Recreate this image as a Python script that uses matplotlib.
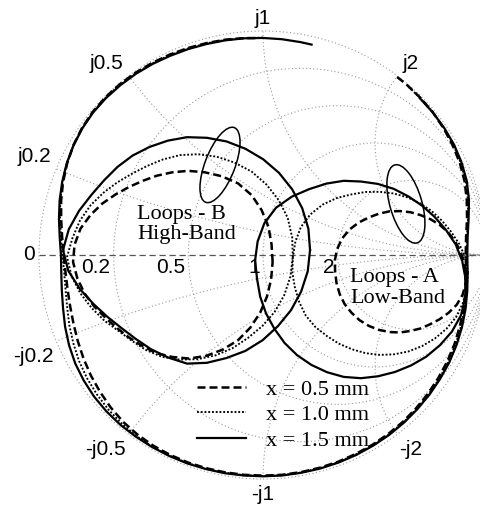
import numpy as np
import matplotlib.pyplot as plt
from matplotlib.patches import Circle, Ellipse

# ---------------------------------------------------------------------------
# Smith chart grid values
r_grid = [0.2, 0.5, 1, 2]
x_grid = [0.2, 0.5, 1, 2]
r_ticks = [0, 0.2, 0.5, 1, 2]
r_tick_labels = ['0', '0.2', '0.5', '1', '2']

# ---------------------------------------------------------------------------
# S11 along the full sweep (outer arc): phase in degrees, magnitude
ph_05 = [92, 95, 100, 105, 110, 115, 120, 125, 130, 135, 140, 145, 150, 155, 160, 165,
         170, 175, 180, 185, 190, 195, 200, 205, 210, 215, 220, 225, 230, 235, 240, 245,
         250, 255, 260, 265, 270, 275, 280, 285, 290, 295, 300, 305, 310, 315, 320, 325,
         330, 335, 340, 345, 350, 355, 360, 365, 370, 375, 380, 385, 390, 395, 400, 405,
         410, 413]
mag_05 = [0.969, 0.972, 0.976, 0.979, 0.983, 0.987, 0.990, 0.993, 0.995, 0.995, 0.993,
          0.987, 0.978, 0.965, 0.950, 0.933, 0.915, 0.900, 0.890, 0.885, 0.886, 0.891,
          0.900, 0.912, 0.925, 0.938, 0.950, 0.962, 0.972, 0.978, 0.982, 0.984, 0.985,
          0.985, 0.985, 0.985, 0.985, 0.985, 0.984, 0.983, 0.982, 0.980, 0.978, 0.975,
          0.972, 0.967, 0.962, 0.956, 0.950, 0.943, 0.935, 0.927, 0.918, 0.910, 0.905,
          0.910, 0.925, 0.942, 0.958, 0.970, 0.978, 0.985, 0.990, 0.993, 0.995, 0.995]

ph_10 = [90, 95, 100, 105, 110, 115, 120, 125, 130, 135, 140, 145, 150, 155, 160, 165,
         170, 175, 180, 185, 190, 195, 200, 205, 210, 215, 220, 225, 230, 235, 240, 245,
         250, 255, 260, 265, 270, 275, 280, 285, 290, 295, 300, 305, 310, 315, 320, 325,
         330, 335, 340, 345, 350, 355, 360, 365, 370, 375, 380, 385, 390, 395, 400, 405,
         409]
mag_10 = [0.970, 0.972, 0.975, 0.978, 0.981, 0.985, 0.988, 0.991, 0.993, 0.993, 0.992,
          0.986, 0.978, 0.966, 0.953, 0.937, 0.920, 0.905, 0.895, 0.891, 0.895, 0.905,
          0.920, 0.934, 0.948, 0.959, 0.968, 0.976, 0.982, 0.986, 0.988, 0.988, 0.988,
          0.988, 0.987, 0.987, 0.987, 0.987, 0.986, 0.985, 0.984, 0.982, 0.980, 0.978,
          0.975, 0.971, 0.966, 0.961, 0.955, 0.948, 0.940, 0.931, 0.922, 0.913, 0.908,
          0.914, 0.930, 0.947, 0.963, 0.974, 0.982, 0.987, 0.990, 0.992, 0.993]

ph_15 = [77, 80, 85, 90, 95, 100, 105, 110, 115, 120, 125, 130, 135, 140, 145, 150, 155,
         160, 165, 170, 175, 180, 185, 190, 195, 200, 205, 210, 215, 220, 225, 230, 235,
         240, 245, 250, 255, 260, 265, 270, 275, 280, 285, 290, 295, 300, 305, 310, 315,
         320, 325, 330, 335, 340, 345, 350, 355, 360, 365, 370, 375, 380, 385, 390, 395,
         400, 405]
mag_15 = [0.964, 0.965, 0.967, 0.969, 0.971, 0.973, 0.975, 0.978, 0.981, 0.985, 0.988,
          0.990, 0.991, 0.990, 0.985, 0.977, 0.967, 0.954, 0.940, 0.925, 0.911, 0.902,
          0.904, 0.912, 0.924, 0.940, 0.955, 0.968, 0.977, 0.984, 0.988, 0.990, 0.990,
          0.990, 0.990, 0.990, 0.989, 0.989, 0.988, 0.988, 0.988, 0.987, 0.987, 0.986,
          0.985, 0.983, 0.981, 0.978, 0.974, 0.970, 0.965, 0.960, 0.953, 0.945, 0.936,
          0.926, 0.917, 0.912, 0.917, 0.932, 0.952, 0.968, 0.978, 0.985, 0.988, 0.990,
          0.990]

# ---------------------------------------------------------------------------
# Loops: centre of each loop (reflection coefficient) and its radius
# every 10 degrees around that centre
loop_ang = np.arange(0, 360, 10)

# Loops - B (high band)
cb_05 = (-0.406, -0.031)
rb_05 = [0.449, 0.451, 0.458, 0.462, 0.464, 0.458, 0.442, 0.426, 0.413, 0.400, 0.391,
         0.385, 0.386, 0.393, 0.406, 0.420, 0.435, 0.442, 0.442, 0.429, 0.415, 0.400,
         0.388, 0.384, 0.388, 0.397, 0.413, 0.424, 0.438, 0.446, 0.452, 0.457, 0.456,
         0.454, 0.451, 0.449]
cb_10 = (-0.371, -0.009)
rb_10 = [0.504, 0.509, 0.512, 0.509, 0.504, 0.498, 0.487, 0.477, 0.466, 0.455, 0.442,
         0.432, 0.429, 0.435, 0.446, 0.461, 0.475, 0.487, 0.504, 0.491, 0.473, 0.455,
         0.441, 0.429, 0.431, 0.442, 0.453, 0.458, 0.463, 0.467, 0.470, 0.472, 0.480,
         0.489, 0.496, 0.501]
cb_15 = (-0.339, 0.022)
rb_15 = [0.549, 0.550, 0.547, 0.542, 0.536, 0.529, 0.522, 0.516, 0.509, 0.504, 0.496,
         0.490, 0.487, 0.484, 0.484, 0.493, 0.513, 0.536, 0.554, 0.538, 0.509, 0.482,
         0.464, 0.455, 0.458, 0.471, 0.487, 0.507, 0.511, 0.513, 0.520, 0.525, 0.529,
         0.536, 0.542, 0.547]

# Loops - A (low band)
ca_05 = (0.612, -0.076)
ra_05 = [0.293, 0.289, 0.284, 0.281, 0.278, 0.275, 0.272, 0.270, 0.271, 0.272, 0.275,
         0.277, 0.281, 0.288, 0.295, 0.299, 0.299, 0.296, 0.290, 0.288, 0.287, 0.286,
         0.283, 0.281, 0.278, 0.275, 0.272, 0.270, 0.267, 0.268, 0.269, 0.275, 0.283,
         0.292, 0.297, 0.297]
ca_10 = (0.522, -0.080)
ra_10 = [0.393, 0.388, 0.377, 0.367, 0.362, 0.360, 0.359, 0.359, 0.360, 0.362, 0.367,
         0.373, 0.386, 0.398, 0.406, 0.408, 0.402, 0.395, 0.391, 0.385, 0.383, 0.382,
         0.376, 0.368, 0.365, 0.363, 0.364, 0.366, 0.369, 0.373, 0.377, 0.382, 0.388,
         0.393, 0.394, 0.394]
ca_15 = (0.4375, -0.107)
ra_15 = [0.467, 0.459, 0.450, 0.438, 0.430, 0.426, 0.425, 0.428, 0.431, 0.435, 0.445,
         0.453, 0.463, 0.480, 0.495, 0.498, 0.491, 0.480, 0.464, 0.457, 0.451, 0.446,
         0.445, 0.444, 0.443, 0.443, 0.444, 0.443, 0.441, 0.442, 0.446, 0.453, 0.460,
         0.469, 0.475, 0.473]

labels = ['x = 0.5 mm', 'x = 1.0 mm', 'x = 1.5 mm']

# ellipses marking the loops: centre, width, height, angle
ell_b = [(-0.192, 0.402), 0.357, 0.134, 69]
ell_a = [(0.638, 0.228), 0.362, 0.143, 106]

# ---------------------------------------------------------------------------
fig = plt.figure(figsize=(4.81, 5.07), dpi=100)
ax = fig.add_axes([0, 0, 1, 1])
ax.set_xlim(-263 / 224, 218 / 224)
ax.set_ylim(-252 / 224, 255 / 224)
ax.axis('off')

gcol = '#9a9a9a'
gls = (0, (1, 2.2))
glw = 0.8

unit = Circle((0, 0), 1, fill=False, ec=gcol, ls=gls, lw=glw)
ax.add_patch(unit)
for r in r_grid:
    ax.add_patch(Circle((r / (1 + r), 0), 1 / (1 + r), fill=False, ec=gcol, ls=gls, lw=glw))
for x in x_grid:
    for s in (1, -1):
        c = Circle((1, s / x), 1 / x, fill=False, ec=gcol, ls=gls, lw=glw)
        ax.add_patch(c)
        c.set_clip_path(unit)

# real axis
ax.plot([-1, ax.get_xlim()[1]], [0, 0], color='#555555', lw=0.9, ls=(0, (5, 3)))

sans = 'Liberation Sans'
serif = 'Liberation Serif'
fs_tick = 15

# resistance labels along the real axis
for r, lab in zip(r_ticks, r_tick_labels):
    g = (r - 1) / (r + 1)
    if r == 0:
        ax.annotate(lab, (g, 0), xytext=(-3, 0), textcoords='offset points',
                    ha='right', va='center', fontsize=fs_tick, family=sans)
    else:
        ax.annotate(lab, (g, 0), xytext=(-2.5, -2), textcoords='offset points',
                    ha='right', va='top', fontsize=fs_tick, family=sans)

# reactance labels around the rim
for x in x_grid:
    for s in (1, -1):
        gr = (x * x - 1) / (x * x + 1)
        gi = s * 2 * x / (x * x + 1)
        if gr < -0.1:
            ha, dx = 'right', (-4 if s > 0 else -2)
        elif gr > 0.1:
            ha, dx = 'left', (4 if s > 0 else 1)
        else:
            ha, dx = 'center', 0
        va = 'bottom' if s > 0 else 'top'
        dy = 2 if s > 0 else -4
        lab = ('j' if s > 0 else '-j') + ('%g' % x)
        ax.annotate(lab, (gr, gi), xytext=(dx, dy), textcoords='offset points',
                    ha=ha, va=va, fontsize=fs_tick, family=sans)

# line styles of the three series
st_05 = dict(color='black', lw=1.8, ls=(0, (3.2, 1.6)))
st_10 = dict(color='black', lw=1.35, ls=(0, (1, 1)))
st_15 = dict(color='black', lw=1.6, ls='-')


def loop_xy(centre, radii):
    a = np.radians(np.append(loop_ang, 360))
    rr = np.append(radii, radii[0])
    return centre[0] + rr * np.cos(a), centre[1] + rr * np.sin(a)


series = [
    (ph_05, mag_05, cb_05, rb_05, ca_05, ra_05, st_05),
    (ph_10, mag_10, cb_10, rb_10, ca_10, ra_10, st_10),
    (ph_15, mag_15, cb_15, rb_15, ca_15, ra_15, st_15),
]
handles = []
for ph, mag, cb, rb, ca, ra, st in series:
    p = np.radians(ph)
    m = np.array(mag)
    ax.plot(m * np.cos(p), m * np.sin(p), **st)
    h, = ax.plot(*loop_xy(cb, rb), **st)
    ax.plot(*loop_xy(ca, ra), **st)
    handles.append(h)

for (cxy, w, hgt, ang) in (ell_b, ell_a):
    ax.add_patch(Ellipse(cxy, w, hgt, angle=ang, fill=False, ec='black', lw=1.1))

ax.text(-0.5625, 0.136, 'Loops - B\nHigh-Band', fontsize=16, family=serif,
        ha='left', va='center', linespacing=1.1)
ax.text(0.388, -0.147, 'Loops - A\nLow-Band', fontsize=16, family=serif,
        ha='left', va='center', linespacing=1.1)

ax.legend(handles, labels, loc='upper left', bbox_to_anchor=(0.41, 0.252),
          bbox_transform=fig.transFigure, frameon=False, borderpad=0,
          borderaxespad=0, handlelength=2.2, handletextpad=0.9,
          labelspacing=0.22, prop={'family': serif, 'size': 16})

fig.savefig('out.png', dpi=100)
